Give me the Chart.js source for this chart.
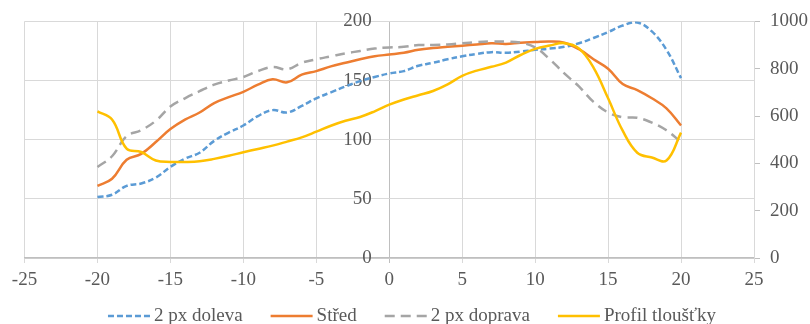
<!DOCTYPE html>
<html>
<head>
<meta charset="utf-8">
<title>Profil</title>
<script src="https://cdn.jsdelivr.net/npm/chart.js@4.4.1/dist/chart.umd.min.js"></script>
<style>
    html, body { margin: 0; padding: 0; background: #fff; }
    #wrap { width: 810px; height: 324px; }
</style>
</head>
<body>
<div id="wrap"><canvas id="profileChart" width="810" height="324"></canvas></div>
<script>
/* global Chart */

// --- Data ---
const positions = [-20, -19, -18, -17, -16, -15, -14, -13, -12, -11, -10, -9, -8, -7, -6, -5, -4, -3, -2, -1,
    0, 1, 2, 3, 4, 5, 6, 7, 8, 9, 10, 11, 12, 13, 14, 15, 16, 17, 18, 19, 20];

const shiftLeft = [51.5, 53.5, 61, 63, 68, 77, 84, 89, 99, 106, 112, 120, 125, 123, 128.5, 135, 140, 145, 149.5, 153,
    156, 158, 162.5, 165, 168, 170.5, 172.5, 174, 173.5, 174.5, 176, 177, 178.5, 181.5, 186, 191, 196.5, 199, 191.5, 176, 152];

const center = [61, 67, 83, 88, 98, 109, 117, 123, 131, 136, 140.5, 146.5, 151, 148.5, 155, 158, 162, 165, 168, 170.5,
    172, 173.5, 176, 177.5, 178.5, 179.5, 180.5, 181.5, 181, 182, 182.5, 183, 182, 176.5, 168, 160, 147, 142, 135, 126.5, 112];

const shiftRight = [77, 86, 103, 108, 116, 128, 135, 141, 146.5, 150, 153, 158, 161.5, 159.5, 165, 168, 170.5, 173, 175, 177,
    178, 178.5, 180, 180, 180.5, 181.5, 182.5, 183, 183, 182, 178, 168, 156, 145, 132, 123, 119, 118.5, 114.5, 108, 98];

// thickness profile, plotted against the right-hand axis
const thickness = [620, 585, 462, 448, 412, 406, 406, 409, 419, 432, 447, 461, 475, 492, 510, 534, 559, 580, 596, 620,
    648, 670, 688, 706, 734, 770, 792, 808, 826, 858, 884, 898, 908, 886, 805, 675, 538, 445, 425, 412, 530];

const seriesNames = ['2 px doleva', 'Střed', '2 px doprava', 'Profil tloušťky'];

// axis ranges: [min, max, step]
const xRange = [-25, 25, 5];
const leftRange = [0, 200, 50];
const rightRange = [0, 1000, 200];

// --- Styling ---
const FONT = '"Liberation Serif", "Times New Roman", serif';
const TEXT = '#595959';
const GRID = '#d9d9d9';
const AXIS = '#bfbfbf';

const toPoints = (vals) => vals.map((v, i) => ({ x: positions[i], y: v }));
const plain = (v) => String(v);

// Legend drawn under the plot with a line sample for each series
const lineLegend = {
    id: 'lineLegend',
    afterDraw(chart) {
        const { ctx } = chart;
        const sample = 42, gap = 4, spacing = 28, y = 316;
        ctx.save();
        ctx.font = `19px ${FONT}`;
        ctx.textBaseline = 'middle';
        ctx.textAlign = 'left';
        const sets = chart.data.datasets;
        const widths = sets.map(ds => sample + gap + ctx.measureText(ds.label).width);
        const total = widths.reduce((a, b) => a + b, 0) + spacing * (sets.length - 1);
        let x = 412 - total / 2;
        sets.forEach((ds, i) => {
            ctx.beginPath();
            ctx.strokeStyle = ds.borderColor;
            ctx.lineWidth = ds.borderWidth;
            ctx.setLineDash(ds.borderDash || []);
            ctx.moveTo(x, y);
            ctx.lineTo(x + sample, y);
            ctx.stroke();
            ctx.setLineDash([]);
            ctx.fillStyle = TEXT;
            ctx.fillText(ds.label, x + sample + gap, y);
            x += widths[i] + spacing;
        });
        ctx.restore();
    }
};

const lineStyle = (color, dash) => ({
    borderColor: color,
    backgroundColor: color,
    borderWidth: 2.5,
    borderDash: dash,
    pointRadius: 0,
    tension: 0.4,
    fill: false
});

new Chart(document.getElementById('profileChart'), {
    type: 'line',
    data: {
        datasets: [
            { label: seriesNames[0], data: toPoints(shiftLeft), yAxisID: 'y', order: 4, ...lineStyle('#5b9bd5', [6, 3]) },
            { label: seriesNames[1], data: toPoints(center), yAxisID: 'y', order: 3, ...lineStyle('#ed7d31', []) },
            { label: seriesNames[2], data: toPoints(shiftRight), yAxisID: 'y', order: 2, ...lineStyle('#a5a5a5', [10, 6]) },
            { label: seriesNames[3], data: toPoints(thickness), yAxisID: 'y2', order: 1, ...lineStyle('#ffc000', []) }
        ]
    },
    options: {
        responsive: false,
        animation: false,
        devicePixelRatio: 1,
        layout: { padding: { left: 24.5, right: 0, top: 20, bottom: 36 } },
        plugins: {
            legend: { display: false },
            tooltip: { enabled: false }
        },
        scales: {
            x: {
                type: 'linear',
                position: 'bottom',
                min: xRange[0],
                max: xRange[1],
                ticks: { stepSize: xRange[2], color: TEXT, font: { family: FONT, size: 19 }, padding: 6, maxRotation: 0, callback: plain },
                // the vertical line at 0 doubles as the left value axis
                grid: {
                    color: (c) => (c.tick && c.tick.value === 0 ? AXIS : GRID),
                    tickColor: (c) => (c.tick && c.tick.value === 0 ? AXIS : GRID),
                    tickLength: 5
                },
                border: { color: AXIS, width: 1.5 },
                afterFit: (s) => { s.height = 30; }
            },
            y: {
                type: 'linear',
                // labels sit just left of the x = 0 line
                position: { x: -1.2 },
                min: leftRange[0],
                max: leftRange[1],
                ticks: { stepSize: leftRange[2], color: TEXT, font: { family: FONT, size: 19 }, padding: 0, callback: plain },
                grid: { color: GRID, drawTicks: false },
                border: { display: false }
            },
            y2: {
                type: 'linear',
                position: 'right',
                min: rightRange[0],
                max: rightRange[1],
                ticks: { stepSize: rightRange[2], color: TEXT, font: { family: FONT, size: 19 }, padding: 10, callback: plain },
                grid: { drawOnChartArea: false, tickColor: AXIS, tickLength: 6 },
                border: { color: GRID, width: 1 },
                afterFit: (s) => { s.width = 56; }
            }
        }
    },
    plugins: [lineLegend]
});
</script>
</body>
</html>
